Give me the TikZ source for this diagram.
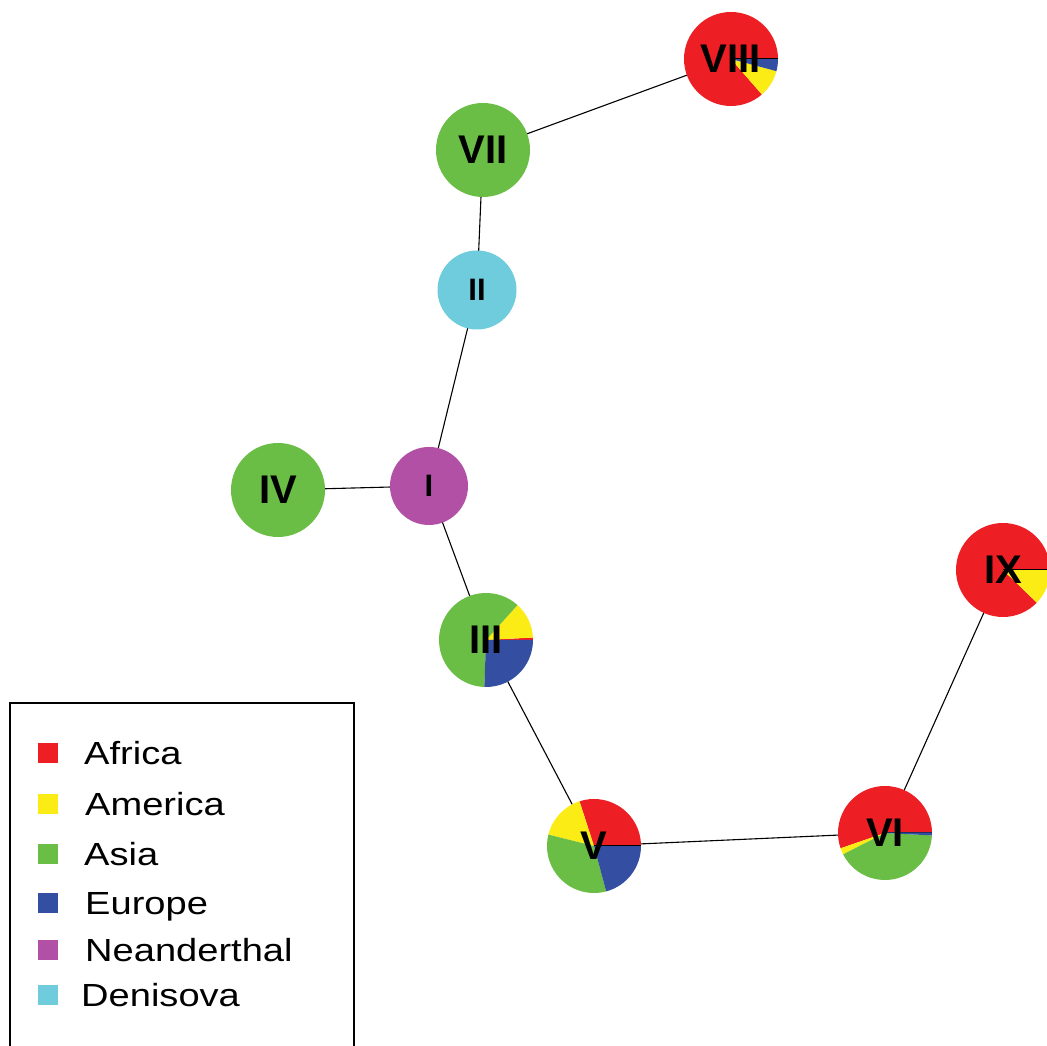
\documentclass[tikz,border=0pt]{standalone}
\usepackage{fontspec}
\setmainfont{Liberation Sans}
\definecolor{cAfr}{RGB}{237,31,36}
\definecolor{cAme}{RGB}{250,236,20}
\definecolor{cAsi}{RGB}{106,189,69}
\definecolor{cEur}{RGB}{52,78,161}
\definecolor{cNea}{RGB}{178,80,165}
\definecolor{cDen}{RGB}{110,204,221}
\newcommand{\pieslice}[5]{\fill[#5] (#1) -- ++(#3:#2) arc[start angle=#3, end angle=#4, radius=#2] -- cycle;}
\begin{document}
\begin{tikzpicture}[x=1pt,y=1pt,
  edge/.style={line width=1.1pt, black},
  zeroline/.style={line width=1pt, black},
  biglabel/.style={font=\bfseries\fontsize{40}{40}\selectfont, inner sep=0pt},
  smalllabel/.style={font=\bfseries\fontsize{31}{31}\selectfont, inner sep=0pt},
  legtext/.style={font=\fontsize{32}{32}\selectfont, anchor=base west, inner sep=0pt},
  legsq/.style={minimum size=20pt, inner sep=0pt, draw=none}]
\useasboundingbox (0,0) rectangle (1047,1046);
\clip (0,0) rectangle (1047,1046);
\fill[white] (0,0) rectangle (1047,1046);
% centres
\coordinate (n8) at (731,987);
\coordinate (n7) at (483,896);
\coordinate (n2) at (477,756);
\coordinate (n1) at (429,560);
\coordinate (n4) at (278,556);
\coordinate (n3) at (486,406);
\coordinate (n5) at (594,200);
\coordinate (n6) at (885,213);
\coordinate (n9) at (1003,476);
% edges
\draw[edge] (n8) -- (n7);
\draw[edge] (n7) -- (n2);
\draw[edge] (n2) -- (n1);
\draw[edge] (n1) -- (n4);
\draw[edge] (n1) -- (n3);
\draw[edge] (n3) -- (n5);
\draw[edge] (n5) -- (n6);
\draw[edge] (n6) -- (n9);
% plain vertices
\fill[cAsi] (n7) circle[radius=47];
\fill[cDen] (n2) circle[radius=39.5];
\fill[cNea] (n1) circle[radius=39];
\fill[cAsi] (n4) circle[radius=47];
% pie VIII
\pieslice{n8}{47}{0}{311}{cAfr}
\pieslice{n8}{47}{311}{345}{cAme}
\pieslice{n8}{47}{345}{360}{cEur}
\draw[zeroline] (n8) -- ++(0:47);
% pie III
\pieslice{n3}{47}{0}{3}{cAfr}
\pieslice{n3}{47}{3}{48}{cAme}
\pieslice{n3}{47}{48}{268}{cAsi}
\pieslice{n3}{47}{268}{360}{cEur}
% pie V
\pieslice{n5}{47}{0}{108}{cAfr}
\pieslice{n5}{47}{108}{166}{cAme}
\pieslice{n5}{47}{166}{285}{cAsi}
\pieslice{n5}{47}{285}{360}{cEur}
\draw[zeroline] (n5) -- ++(0:47);
% pie VI
\pieslice{n6}{47}{0}{199}{cAfr}
\pieslice{n6}{47}{199}{207}{cAme}
\pieslice{n6}{47}{207}{357}{cAsi}
\pieslice{n6}{47}{357}{360}{cEur}
\draw[zeroline, cEur!60!black] (n6) -- ++(0:47);
% pie IX
\pieslice{n9}{47}{0}{316}{cAfr}
\pieslice{n9}{47}{316}{360}{cAme}
\draw[zeroline] (n9) -- ++(0:47);
% labels
\node[biglabel] (l8) at (n8) {VIII};
\node[biglabel] (l7) at (n7) {VII};
\node[smalllabel] (l2) at (n2) {II};
\node[smalllabel] (l1) at (n1) {I};
\node[biglabel] (l4) at (n4) {IV};
\node[biglabel] (l3) at (n3) {III};
\node[biglabel] (l5) at (n5) {V};
\node[biglabel] (l6) at (n6) {VI};
\node[biglabel] (l9) at (n9) {IX};
% legend
\draw[line width=1.1pt] (10,-5) -- (10,343) -- (354,343) -- (354,-5);
\node[legsq, fill=cAfr] (s1) at (48,292.5) {};
\node[legsq, fill=cAme] (s2) at (48,242) {};
\node[legsq, fill=cAsi] (s3) at (48,192) {};
\node[legsq, fill=cEur] (s4) at (48,143) {};
\node[legsq, fill=cNea] (s5) at (48,96) {};
\node[legsq, fill=cDen] (s6) at (48,51) {};
\node[legtext] (t1) at (84,281) {\scalebox{1.19}[1]{Africa}};
\node[legtext] (t2) at (85,230.5) {\scalebox{1.19}[1]{America}};
\node[legtext] (t3) at (84,180.5) {\scalebox{1.19}[1]{Asia}};
\node[legtext] (t4) at (85,131.5) {\scalebox{1.19}[1]{Europe}};
\node[legtext] (t5) at (85,84.5) {\scalebox{1.19}[1]{Neanderthal}};
\node[legtext] (t6) at (81,39.5) {\scalebox{1.19}[1]{Denisova}};
\end{tikzpicture}
\end{document}
